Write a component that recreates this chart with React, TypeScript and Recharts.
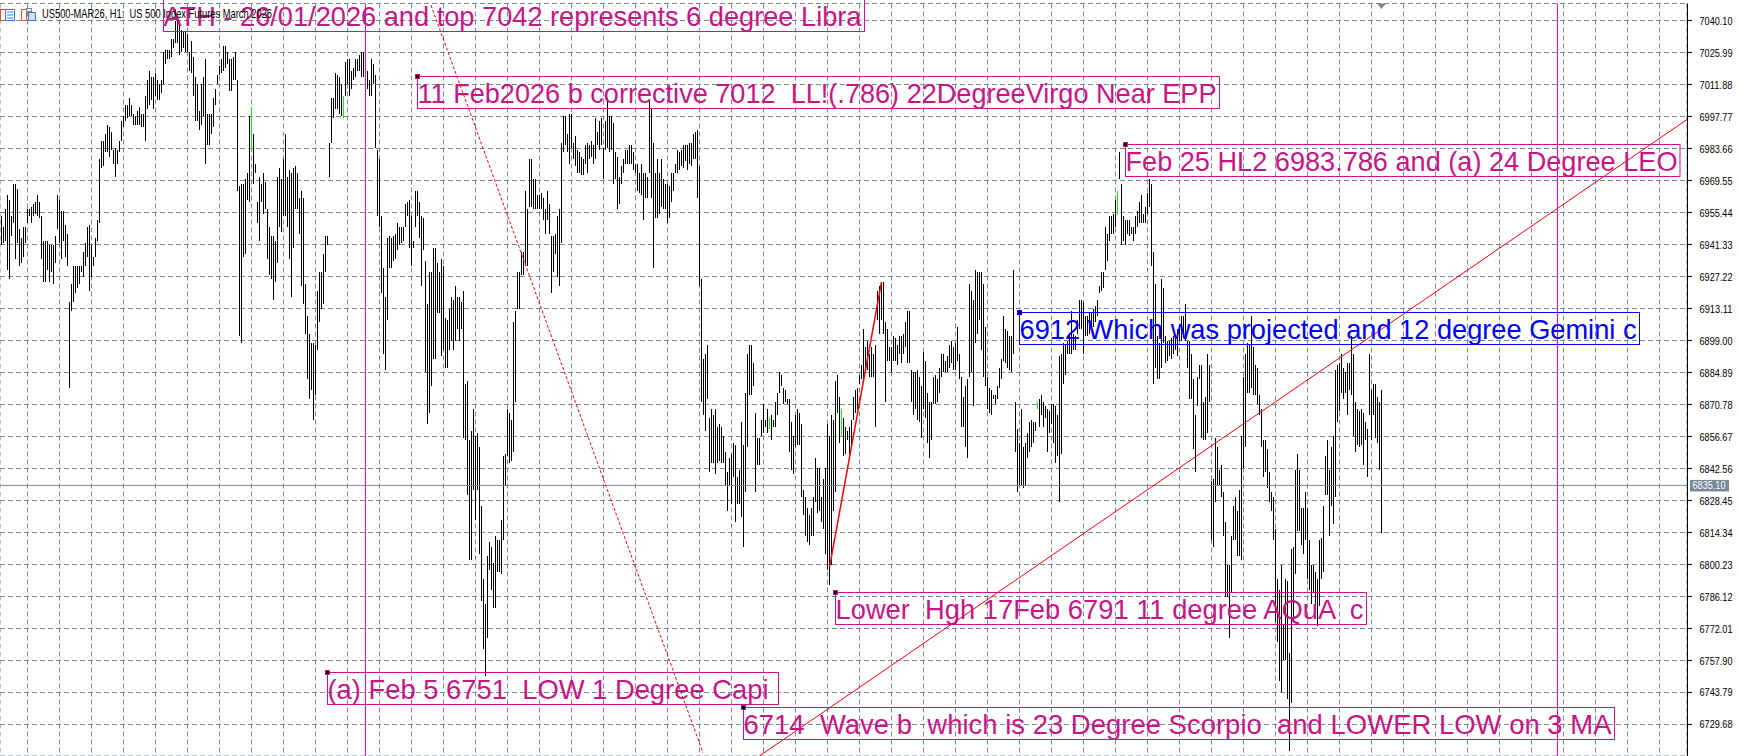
import React from "react";
import { ComposedChart, Bar, Cell, XAxis, YAxis, CartesianGrid, ReferenceLine, ReferenceDot } from "recharts";

const priceTicks = [7040.10,7025.99,7011.88,6997.77,6983.66,6969.55,6955.44,6941.33,6927.22,6913.11,6899.00,6884.89,6870.78,6856.67,6842.56,6828.45,6814.34,6800.23,6786.12,6772.01,6757.90,6743.79,6729.68];
const gridBars = [13,29,45,61,77,93,109,125,141,157,173,189,205,221,237,253,269,285,301,317,333,349,365,381,397,413,429,445,461,477,493,509,525,541,557,573,589,605,621,637,653,669,685,701,717,733,749,765,781,797,813,829];
const lastPrice = 6835.10;
const priceDomain = [6715.79, 7047.6];
const barDomain = [-0.75, 842.75];

// [high, low] per hourly bar; a third element 1 marks a green bar
const barsJan: number[][] = [
[6954,6941],[6949,6942],[6957,6943],[6963,6930],[6961,6926],[6954,6945],[6968,6951],[6968,6935],[6966,6942],[6948,6932],[6944,6933],[6949,6936],[6949,6942],[6957,6951],[6957,6954],[6958,6951],[6959,6954],[6960,6955],[6963,6954],[6960,6953],[6954,6935],[6943,6925],[6943,6925],[6943,6930],[6941,6925],[6941,6929],[6941,6924],[6945,6933],[6963,6948],[6961,6942],[6956,6935],[6956,6943],[6950,6936],[6946,6932],[6916,6878],[6924,6912],[6932,6916],[6932,6920],[6932,6922],[6932,6924],[6932,6929],[6938,6927],[6942,6932],[6949,6936],[6950,6921],[6941,6927],[6936,6932],[6944,6936],[6952,6943],[6979,6951],
[6987,6975],[6987,6976],[6990,6982],[6994,6982],[6993,6980],[6991,6983],[6983,6977],[6984,6971],[6983,6977],[6987,6982],[6996,6987],[6998,6993],[7003,6996],[7003,6997],[7006,6998],[7003,6998],[6999,6994],[6998,6994],[7000,6994],[7002,6994],[6999,6993],[6999,6993],[7007,6987],[7014,7001],[7018,7003],[7015,7005],[7015,7001],[7017,7007],[7014,7005],[7012,7005],[7014,7008],[7026,7012],[7027,7021],[7027,7023],[7027,7023],[7032,7024],[7032,7028],[7040,7030],[7042,7030],[7040,7025],[7036,7026],[7035,7028],[7035,7026],[7034,7026],[7026,7018],[7031,7017],[7024,7007],[7015,6996],[7012,6996],[7000,6992],
[7012,6994],[7015,6998],[7023,6977],[6999,6985],[6999,6985],[6999,6990],[7006,6993],[7010,7003],[7016,7012],[7020,7016],[7023,7017],[7029,7018],[7029,7019],[7026,7021],[7023,7009],[7023,7009],[7024,7014],[7026,7014],[7014,6965],[6967,6901],[6968,6898],[6968,6936],[6970,6937],[6973,6961],[6998,6960],[7002,6984,1],[6990,6968],[6977,6973],[6960,6951],[6971,6943],[6968,6960],[6973,6955],[6969,6957],[6957,6935],[6949,6928],[6945,6926],[6945,6917],[6943,6925],[6971,6933],[6975,6949],[6970,6947],[6979,6954],[6990,6954],[6971,6949],[6974,6935],[6973,6918],[6975,6940],[6976,6957],[6973,6957],[6962,6946],
[6965,6923],[6962,6915],[6924,6902],[6910,6882],[6902,6873],[6898,6877],[6898,6864],[6897,6875],[6921,6895],[6929,6907],[6929,6913],[6937,6915],[6945,6929],[6945,6941],[6986,6971],[7006,6986],[7006,6997],[7017,7001],[7016,7001],[7015,6999],[7012,6998],[7007,6997,1],[7022,7007],[7023,7012],[7023,7007],[7018,7010],[7019,7014],[7023,7015],[7023,7018],[7025,7018],[7026,7015],[7026,7015],[7021,7014],[7018,7010],[7014,7007],[7023,7007],[7021,7012],[7016,6984],[6983,6954],[6979,6949],[6954,6920],[6931,6893],[6918,6886],[6944,6908],[6945,6931],[6944,6931],[6945,6934],[6946,6935],[6951,6939],[6949,6941],
[6949,6942],[6949,6943],[6959,6949],[6960,6954],[6961,6940],[6954,6932],[6943,6940],[6965,6949],[6965,6954],[6960,6944],[6954,6923],[6953,6939],[6934,6885],[6915,6862],[6929,6867],[6929,6879],[6940,6891],[6940,6891],[6933,6911],[6929,6911],[6935,6892],[6932,6895],[6909,6887],[6908,6887],[6913,6895],[6918,6899],[6917,6895],[6923,6899],[6918,6904],[6918,6899],[6916,6904],[6921,6856],[6880,6855],[6881,6831],[6855,6802],[6859,6802],[6869,6833],[6857,6820],[6858,6833],[6852,6805],[6826,6784],[6794,6763],[6783,6751],[6804,6768],[6810,6798],[6808,6789],[6801,6781],[6813,6781],[6811,6797],[6811,6797],
[6820,6796],[6848,6811],[6849,6835],[6869,6848],[6867,6845],[6864,6846],[6907,6850],[6912,6872],[6929,6913],[6929,6913],[6938,6928],[6938,6928],[6965,6932],[6957,6932],[6979,6958],[6979,6958],[6970,6957],[6970,6957],[6963,6957],[6963,6957],[6964,6957],[6962,6952],[6957,6946],[6965,6952],[6959,6946],[6945,6920],[6945,6929],[6946,6937],[6954,6927],[6957,6923],[6986,6942],[6998,6982],[6998,6985],[6990,6982],[6999,6977],[6999,6984],[6986,6979],[6989,6976],[6983,6973],[6982,6973],
];
const barsFebEarly: number[][] = [
[6980,6972],[6979,6972],[6985,6977],[6986,6973],[6985,6979],[6987,6980],[6985,6977],[6997,6979],[6991,6985],[6996,6983],[6997,6985],[6984,6970],[6996,6983],[7006,6984],[6998,6982],[6998,6983],[6995,6968],[6982,6970],[6980,6957],[6971,6959],[6976,6968],[6979,6973],[6983,6977],[6983,6977],[6985,6977],[6985,6977],[6982,6974],[6977,6973],[6977,6965],[6973,6964],[6977,6963],[6973,6952],[6973,6962],[6971,6962],[7005,6973],[7001,6962],[6986,6931],[6973,6953],[6979,6953],[6973,6955],[6979,6958],[6970,6957],[6968,6957],[6968,6951],[6967,6953],[6973,6960],[6973,6965],[6977,6973],[6983,6973],[6982,6974],
[6983,6976],[6985,6975],[6985,6978],[6985,6974],[6986,6977],[6986,6976],[6990,6979],[6991,6979],[6992,6962],[6976,6923],[6926,6872],[6891,6866],[6893,6859],[6897,6873],[6865,6841],[6869,6845],[6866,6845],[6869,6840],[6861,6845],[6862,6846],[6861,6845],[6857,6845],[6850,6835],[6841,6824],[6847,6835],[6849,6827],[6854,6839],[6853,6819],[6839,6827],[6842,6827],[6863,6821],[6853,6808],[6876,6832],[6893,6852],[6897,6875],[6897,6875],[6889,6879],[6867,6832],[6856,6844],[6856,6844],[6864,6857],[6871,6858],[6864,6861],[6869,6858],[6865,6860,1],[6866,6855],[6864,6861],[6872,6861],[6876,6866],[6885,6876],
[6884,6879],[6878,6871],[6877,6872],[6873,6871],[6873,6850],[6863,6842],[6857,6840],[6866,6852],[6869,6853],[6867,6853],[6862,6830],[6833,6822],[6830,6813],[6825,6810],[6822,6809],[6825,6813],[6830,6813],[6847,6828],[6843,6823],[6843,6824],[6830,6819],[6838,6816],[6843,6805],[6862,6798],[6857,6791],[6866,6800],[6864,6824],[6881,6832],[6884,6867],[6874,6854],[6869,6857,1],[6865,6848],[6861,6849],[6859,6855],[6861,6849],[6864,6853],[6874,6864],[6877,6867],[6878,6869],[6884,6880],[6888,6882],[6904,6882],[6896,6885],[6899,6886],[6893,6883],[6896,6883],[6893,6883],[6897,6861],[6921,6908],[6923,6902],
[6924,6908],[6925,6902],[6907,6872],[6904,6890],[6896,6890],[6896,6885],[6901,6890],[6900,6890],[6897,6888],[6901,6893],[6901,6889],[6902,6893],[6907,6896],[6912,6889],[6912,6889],[6886,6872],[6885,6866],[6885,6869],[6886,6864],[6883,6863],[6879,6856],[6894,6869],[6890,6865],[6876,6854],[6872,6847],[6872,6855],[6883,6871],[6884,6871],[6882,6872],[6887,6876],[6893,6883],[6893,6885],[6890,6885],[6892,6885],[6897,6887],[6899,6889],[6896,6886],[6898,6886],[6905,6890],[6893,6882],[6883,6861],[6874,6861],[6879,6852],[6882,6847],[6924,6883],[6921,6885],[6917,6870],[6930,6898],[6929,6902],[6929,6908],
[6929,6895],[6924,6883],[6905,6879],[6883,6869],[6878,6867],[6877,6866],[6875,6873],[6875,6871],[6879,6873],[6887,6878],[6891,6882],[6910,6890],[6904,6889],[6903,6887],[6901,6886],[6901,6885],[6930,6893],[6872,6850],[6860,6832],[6854,6835],[6869,6835],[6852,6834],[6854,6835],[6858,6847],[6863,6850],[6864,6852],[6863,6854],[6863,6859],[6872,6869,1],[6873,6861],[6875,6866],[6872,6861],[6870,6865],[6869,6850],[6868,6858],[6871,6862],[6871,6854],[6870,6845],[6866,6848],[6892,6828],[6893,6849],[6898,6880],[6897,6884],[6899,6893],[6902,6893],[6912,6893],[6902,6895],[6901,6895],[6908,6902],[6917,6904],
[6917,6904],[6916,6893],[6910,6901],[6910,6901],[6911,6902],[6911,6904],[6913,6905],[6914,6907],[6917,6910],[6923,6920],[6929,6921],[6929,6922],[6949,6930],[6946,6934],[6954,6943],[6954,6946],[6955,6946],[6961,6949],[6965,6955,1],[6982,6970],[6968,6941],[6954,6943],[6952,6941],[6952,6946],[6952,6945],[6949,6946],[6949,6943],[6954,6946],[6956,6949],[6960,6951],[6963,6951],[6955,6951],[6958,6951],[6964,6955],[6970,6958],[6968,6932],[6938,6880],[6924,6887],[6901,6882],[6898,6882],[6924,6887],
];
const barsFebLate: number[][] = [
[6926,6889],[6922,6898],[6901,6889],[6899,6890],[6899,6892],[6900,6891],[6901,6893],[6902,6895],[6904,6892],[6904,6899],[6910,6899],[6910,6900],[6915,6899],[6899,6887],[6899,6873],[6893,6873],[6882,6851],[6866,6841],[6883,6870],[6888,6882],[6888,6856],[6872,6855],[6874,6855],[6893,6858],[6888,6872],[6837,6811],[6838,6808],[6856,6828],[6852,6835],[6842,6835],[6844,6830],[6832,6813],[6819,6786],[6800,6786],[6800,6768],[6813,6788],[6826,6811],[6830,6811],[6824,6804],[6833,6804],[6857,6802],[6883,6843],[6893,6852],[6898,6876],[6897,6876],[6910,6878],[6896,6875],[6888,6875],[6887,6871],[6875,6866],
[6869,6852],[6855,6839],[6855,6841],[6851,6834],[6841,6828],[6832,6824],[6830,6811],[6816,6775],[6794,6766],[6789,6749],[6800,6744],[6774,6758],[6794,6758],[6793,6741],[6761,6718],[6807,6739],[6808,6776],[6842,6796],[6849,6815],[6842,6815],[6825,6809],[6825,6805],[6832,6811],[6825,6794],[6811,6789],[6800,6783],[6800,6788],[6797,6782],[6794,6773],[6811,6782],[6812,6794],[6826,6797],[6848,6831],[6855,6831],[6842,6813],[6852,6826],[6857,6818],[6886,6830],[6888,6863],[6889,6868],[6893,6876],[6887,6873],[6885,6876],[6889,6866],[6889,6877],[6901,6875],[6893,6857],[6872,6850],[6869,6853],[6868,6852],
[6869,6853],[6867,6844],[6863,6855],[6860,6839],[6893,6866],[6877,6855],[6880,6866],[6880,6856],[6874,6854],[6872,6842],[6877,6814],
];
const segmentStarts = [0, 290, 580];
const segments = [barsJan, barsFebEarly, barsFebLate];

const chartData = segments.flatMap((seg, s) =>
  seg.map((b, k) => ({ bar: segmentStarts[s] + k, range: [b[1], b[0]], green: b[2] === 1 }))
);

const notes = [
  { text: "ATH - 26/01/2026 and top 7042 represents 6 degree Libra", bar: 81, price: 7049.27, w: 701, tw: 698, color: "#C71585", dot: false },
  { text: "11 Feb2026 b corrective 7012  LL!(.786) 22DegreeVirgo Near EPP", bar: 207.9, price: 7015.4, w: 802, tw: 799, color: "#C71585", dot: true },
  { text: "Feb 25 HL2 6983.786 and (a) 24 Degree LEO", bar: 561.9, price: 6985.4, w: 554.5, tw: 552, color: "#C71585", dot: true },
  { text: "6912 Which was projected and 12 degree Gemini c", bar: 509, price: 6911.3, w: 620, tw: 617, color: "#0000FF", dot: true },
  { text: "Lower  Hgh 17Feb 6791 11 degree AQuA  c", bar: 416.9, price: 6787.9, w: 531, tw: 528, color: "#C71585", dot: true },
  { text: "(a) Feb 5 6751  LOW 1 Degree Capi", bar: 163, price: 6752.6, w: 451, tw: 441, color: "#C71585", dot: true },
  { text: "6714  Wave b  which is 23 Degree Scorpio  and LOWER LOW on 3 MA", bar: 371, price: 6737.2, w: 871, tw: 868, color: "#C71585", dot: true },
];
const trendUp = [{ x: 378.95, y: 6715.79 }, { x: 842.75, y: 6996.45 }];
const trendSteep = [{ x: 414.1, y: 6799.5 }, { x: 440, y: 6924.8 }];
const trendDown = [{ x: 214.75, y: 7046.85 }, { x: 350.75, y: 6717.2 }];
const frameRight = [{ x: 843, y: priceDomain[0] }, { x: 843, y: priceDomain[1] }];
const sessionBars = [182, 778];

const PriceTick = (p: any) => (
  <text x={p.x + 5.5} y={p.y + 4} fontFamily="Liberation Sans" fontSize={11} fill="#000" textLength={33} lengthAdjust="spacingAndGlyphs">
    {Number(p.payload.value).toFixed(2)}
  </text>
);

const noteShape = (n: (typeof notes)[number]) => (p: any) => {
  const x = Math.floor(p.cx) + 0.5;
  const y = Math.floor(p.cy) + 0.5;
  return (
    <g>
      <rect x={x} y={y} width={n.w} height={32} fill="none" stroke={n.color} strokeWidth={1} />
      <text x={x} y={y + 26} fontFamily="Liberation Sans" fontSize={28} fill={n.color} textLength={n.tw} lengthAdjust="spacingAndGlyphs" style={{ whiteSpace: "pre" }}>{n.text}</text>
      {n.dot && <rect x={x - 2} y={y - 2} width={4} height={4} fill="#000" stroke={n.color} strokeWidth={1} />}
    </g>
  );
};

const NoTick = () => <g />;

export default function App() {
  return (
    <div style={{ position: "absolute", left: 0, top: 0, width: 1740, height: 756, background: "#fff", overflow: "hidden" }}>
      <ComposedChart width={1740} height={756} data={chartData} margin={{ top: 3.5, right: 0, bottom: 0, left: 0 }} barCategoryGap={0}>
        <CartesianGrid stroke="#778899" strokeDasharray="5 3" strokeWidth={1} />
        <XAxis dataKey="bar" type="number" orientation="top" domain={barDomain} ticks={gridBars} interval={0} allowDataOverflow height={0} tick={<NoTick />} tickLine={false} axisLine={{ stroke: "#000", strokeWidth: 1 }} />
        <YAxis orientation="right" width={53} domain={priceDomain} ticks={priceTicks} interval={0} allowDataOverflow tick={<PriceTick />} tickSize={5} tickLine={{ stroke: "#000" }} axisLine={false} />
        <Bar dataKey="range" barSize={1} isAnimationActive={false} fill="#000" shapeRendering="crispEdges">
          {chartData.map((d) => (
            <Cell key={d.bar} fill={d.green ? "#00FF00" : "#000"} />
          ))}
        </Bar>
        <ReferenceLine y={lastPrice} stroke="#778899" strokeWidth={1} />
        {sessionBars.map((b) => (
          <ReferenceLine key={b} x={b} stroke="#E000D0" strokeWidth={1} />
        ))}
        <ReferenceLine segment={frameRight} stroke="#000" strokeWidth={1} ifOverflow="visible" />
        <ReferenceLine segment={trendDown} stroke="#FF0000" strokeWidth={1} strokeDasharray="3 2" ifOverflow="visible" />
        <ReferenceLine segment={trendUp} stroke="#FF0000" strokeWidth={1} ifOverflow="visible" />
        <ReferenceLine segment={trendSteep} stroke="#FF0000" strokeWidth={1.5} ifOverflow="visible" />
        {notes.map((n) => (
          <ReferenceDot key={n.text} x={n.bar} y={n.price} r={1} ifOverflow="visible" shape={noteShape(n)} />
        ))}
        <ReferenceDot x={690} y={priceDomain[1]} r={1} ifOverflow="visible" shape={(p: any) => (
          <polygon points={`${p.cx - 4.5},${p.cy} ${p.cx + 4.5},${p.cy} ${p.cx},${p.cy + 5.5}`} fill="#778899" />
        )} />
        <ReferenceDot x={barDomain[1]} y={lastPrice} r={1} ifOverflow="visible" shape={(p: any) => (
          <g>
            <rect x={p.cx + 3} y={p.cy - 5.5} width={39} height={11.5} fill="#778899" />
            <text x={p.cx + 5.5} y={p.cy + 4} fontFamily="Liberation Sans" fontSize={11} fill="#fff" textLength={33} lengthAdjust="spacingAndGlyphs">{lastPrice.toFixed(2)}</text>
          </g>
        )} />
      </ComposedChart>
      <svg width={280} height={26} style={{ position: "absolute", left: 0, top: 0 }}>
        <rect x={0.5} y={9.5} width={5} height={11} fill="#fff" stroke="#E8502A" />
        <rect x={5.5} y={9.5} width={9} height={11} fill="#fff" stroke="#3A78D8" />
        <path d="M7 12h6M7 15h6M7 18h6" stroke="#3A78D8" />
        <path d="M21.5 9.5h5v11h-5z" fill="#fff" stroke="#E8502A" />
        <path d="M28.5 12.5h7v8h-7z" fill="#CFE2F7" stroke="#3A78D8" />
        <rect x={26.5} y={8.5} width={5} height={3} fill="#fff" stroke="#778899" />
        <text x={42} y={18} fontFamily="Liberation Sans" fontSize={12} fill="#000" textLength={230} lengthAdjust="spacingAndGlyphs" style={{ whiteSpace: "pre" }}>US500-MAR26, H1:  US 500 Index Futures March 2026</text>
      </svg>
    </div>
  );
}
